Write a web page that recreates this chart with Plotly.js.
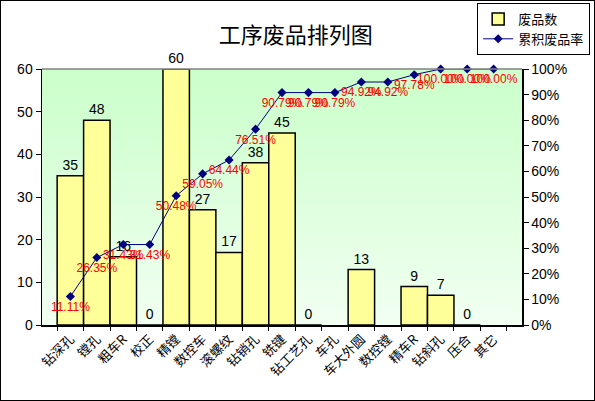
<!DOCTYPE html>
<html>
<head>
<meta charset="utf-8">
<script src="https://cdn.plot.ly/plotly-3.0.1.min.js"></script>
<style>
  html, body { margin: 0; padding: 0; background: #fff; }
  #wrap { position: relative; width: 595px; height: 401px; }
  #chart { width: 595px; height: 401px; }
  #frame { position: absolute; left: 0; top: 0; width: 595px; height: 401px; box-sizing: border-box; border: 1px solid #000; pointer-events: none; }
</style>
</head>
<body>
<div id="wrap"><div id="chart"></div><div id="frame"></div></div>
<script>
const categories = ['钻深孔','镗孔','粗车R','校正','精镗','数控车','滚螺纹','钻销孔','铣键','钻工艺孔','车孔','车大外圆','数控镗','精车R','钻斜孔','压合','其它'];
const scrapCounts = [35, 48, 16, 0, 60, 27, 17, 38, 45, 0, null, 13, null, 9, 7, 0, null];
const cumulativeRate = [11.11, 26.35, 31.43, 31.43, 50.48, 59.05, 64.44, 76.51, 90.79, 90.79, 90.79, 94.92, 94.92, 97.78, 100.00, 100.00, 100.00];
const leftTicks = [0, 10, 20, 30, 40, 50, 60];
const rightTicks = [0, 10, 20, 30, 40, 50, 60, 70, 80, 90, 100];

const FONT = 'Liberation Sans, Arial, Noto Sans CJK SC, sans-serif';
const CJK = 'Noto Sans CJK SC, Liberation Sans, sans-serif';

const svg = "<svg xmlns='http://www.w3.org/2000/svg' width='100' height='100' preserveAspectRatio='none'>" +
  "<defs><linearGradient id='g' x1='0' y1='0' x2='0' y2='1'>" +
  "<stop offset='0' stop-color='#ccffcc'/><stop offset='0.06' stop-color='#ccffcc'/><stop offset='1' stop-color='#f2fff2'/>" +
  "</linearGradient></defs><rect width='100' height='100' fill='url(#g)'/></svg>";
const bgSrc = 'data:image/svg+xml;charset=utf-8,' + encodeURIComponent(svg);

const barTrace = {
  type: 'bar',
  name: '废品数',
  x: categories,
  y: scrapCounts,
  text: scrapCounts.map(v => v === null ? '' : String(v)),
  textposition: 'outside',
  textfont: { family: FONT, size: 14, color: '#000' },
  cliponaxis: false,
  marker: { color: '#ffff99', line: { color: '#000', width: 1.5 } },
  hoverinfo: 'x+y'
};

const lineTrace = {
  type: 'scatter',
  name: '累积废品率',
  x: categories,
  y: cumulativeRate,
  yaxis: 'y2',
  mode: 'lines+markers+text',
  text: cumulativeRate.map(v => v.toFixed(2) + '%'),
  textposition: 'bottom center',
  textfont: { family: FONT, size: 12, color: '#ff0000' },
  cliponaxis: false,
  line: { color: '#000080', width: 1 },
  marker: { symbol: 'diamond', size: 7, color: '#000080' }
};

const layout = {
  width: 595,
  height: 401,
  margin: { l: 42, r: 73, t: 69, b: 76, autoexpand: false },
  paper_bgcolor: '#ffffff',
  plot_bgcolor: 'rgba(0,0,0,0)',
  font: { family: FONT, size: 13, color: '#000' },
  title: {
    text: '工序废品排列图',
    font: { family: CJK, size: 22, color: '#000' },
    x: 0.497, xanchor: 'center', xref: 'container',
    y: 0.912, yanchor: 'middle', yref: 'container'
  },
  bargap: 0,
  showlegend: true,
  legend: {
    x: 1.142, xanchor: 'right', xref: 'paper',
    y: 1.258, yanchor: 'top', yref: 'paper',
    bgcolor: '#ffffff',
    bordercolor: '#000', borderwidth: 1,
    font: { family: CJK, size: 13, color: '#000' },
    tracegroupgap: 0,
    itemwidth: 30
  },
  xaxis: {
    type: 'category',
    tickangle: -45,
    tickfont: { family: CJK, size: 13, color: '#000' },
    showline: true, linecolor: '#000', linewidth: 1.5,
    ticks: 'outside', tickson: 'boundaries', ticklen: 4, tickcolor: '#000',
    showgrid: false, zeroline: false, automargin: false
  },
  yaxis: {
    range: [0, 60],
    tickvals: leftTicks,
    ticktext: leftTicks.map(String),
    tickfont: { family: FONT, size: 14, color: '#000' },
    showline: true, linecolor: '#000', linewidth: 1.5,
    ticks: 'outside', ticklen: 5, tickcolor: '#000',
    showgrid: false, zeroline: false, automargin: false
  },
  yaxis2: {
    overlaying: 'y',
    side: 'right',
    range: [0, 100],
    tickvals: rightTicks,
    ticktext: rightTicks.map(v => v + '%'),
    tickfont: { family: FONT, size: 14, color: '#000' },
    showline: true, linecolor: '#000', linewidth: 1.5,
    ticks: 'outside', ticklen: 5, tickcolor: '#000',
    showgrid: false, zeroline: false, automargin: false
  },
  images: [{
    source: bgSrc,
    xref: 'paper', yref: 'paper',
    x: 0, y: 1, sizex: 1, sizey: 1,
    xanchor: 'left', yanchor: 'top',
    sizing: 'stretch', layer: 'below'
  }],
  shapes: [{
    type: 'line', xref: 'paper', yref: 'paper',
    x0: 0, x1: 1, y0: 1, y1: 1,
    line: { color: '#808080', width: 1.5 }
  }]
};

Plotly.newPlot('chart', [barTrace, lineTrace], layout, { displayModeBar: false, staticPlot: true });
</script>
</body>
</html>
